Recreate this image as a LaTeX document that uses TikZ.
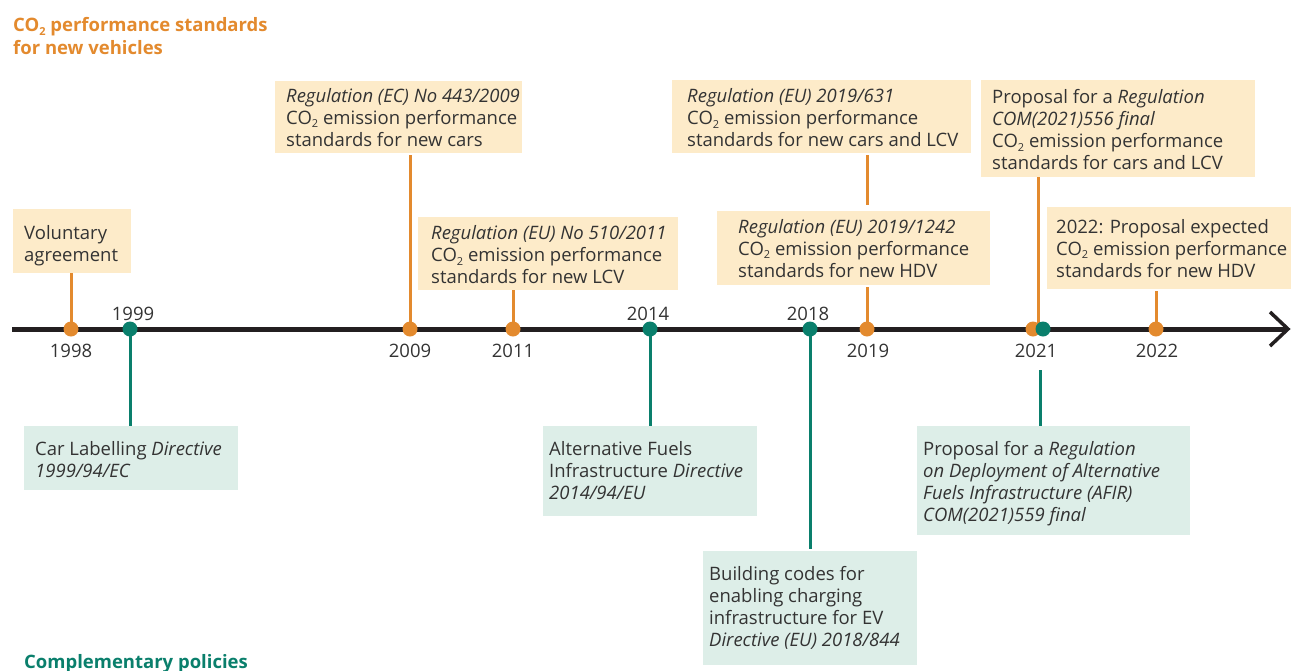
\documentclass[tikz,border=0pt]{standalone}
\usepackage{fontspec}
\setmainfont{Open Sans}
\definecolor{ocol}{HTML}{E38A2E}
\definecolor{tcol}{HTML}{0A7F6C}
\definecolor{ofill}{HTML}{FDEBC9}
\definecolor{tfill}{HTML}{DDEEE8}
\definecolor{txt}{HTML}{333333}
\definecolor{axis}{HTML}{231F20}
\newcommand{\cotwo}{CO\raisebox{-0.35ex}{\fontsize{11}{11}\selectfont 2}}
\begin{document}
\begin{tikzpicture}[x=1pt,y=-1pt,
  every node/.style={font=\fontsize{18.5}{22}\selectfont, text=txt},
  obox/.style={fill=ofill, draw=none, anchor=north west, inner sep=0},
  tbox/.style={fill=tfill, draw=none, anchor=north west, inner sep=0},
  tx/.style={anchor=west, align=left, inner sep=0},
  ostem/.style={draw=ocol, line width=3pt},
  tstem/.style={draw=tcol, line width=3pt},
  odot/.style={circle, fill=ocol, minimum size=15pt, inner sep=0},
  tdot/.style={circle, fill=tcol, minimum size=15pt, inner sep=0},
  axline/.style={draw=axis, line width=5pt},
  yr/.style={inner sep=0}
]
\useasboundingbox (0,0) rectangle (1291,670);

% titles
\node[anchor=west, align=left, inner sep=0, font=\fontsize{18.5}{23}\selectfont\bfseries, text=ocol] (ttl) at (13,36) {\cotwo{} performance standards\\for new vehicles};
\node[anchor=base west, inner sep=0, font=\fontsize{18.5}{22}\selectfont\bfseries, text=tcol] (ttl2) at (24,668) {Complementary policies};

% timeline coordinates
\coordinate (tlS) at (12,329);
\coordinate (tlE) at (1287,329);
\coordinate (c1998) at (71,329);
\coordinate (c2009) at (410,329);
\coordinate (c2011) at (513,329);
\coordinate (c2019) at (867,329);
\coordinate (c2021) at (1033,329);
\coordinate (c2021s) at (1038,329);
\coordinate (c2022) at (1156,329);
\coordinate (k1999) at (130,329);
\coordinate (k2014) at (650,329);
\coordinate (k2018) at (810,329);
\coordinate (k2021) at (1040,329);

% orange boxes
\node[obox, minimum width=118pt, minimum height=64pt] (vol) at (13,209) {};
\node[tx] (volt) at ([xshift=11pt,yshift=-4pt]vol.west) {Voluntary\\agreement};
\node[obox, minimum width=247pt, minimum height=72pt] (r443) at (275,81) {};
\node[tx] (r443t) at ([xshift=11pt,yshift=0pt]r443.west) {\textit{Regulation (EC) No 443/2009}\\\cotwo{} emission performance\\standards for new cars};
\node[obox, minimum width=260pt, minimum height=73pt] (r510) at (418,217) {};
\node[tx] (r510t) at ([xshift=13pt,yshift=-1pt]r510.west) {\textit{Regulation (EU) No 510/2011}\\\cotwo{} emission performance\\standards for new LCV};
\node[obox, minimum width=299pt, minimum height=73pt] (r631) at (672,80) {};
\node[tx] (r631t) at ([xshift=15pt,yshift=-1pt]r631.west) {\textit{Regulation (EU) 2019/631}\\\cotwo{} emission performance\\standards for new cars and LCV};
\node[obox, minimum width=273pt, minimum height=74pt] (r1242) at (717,211) {};
\node[tx] (r1242t) at ([xshift=21pt,yshift=0pt]r1242.west) {\textit{Regulation (EU) 2019/1242}\\\cotwo{} emission performance\\standards for new HDV};
\node[obox, minimum width=274pt, minimum height=97pt] (p556) at (981,80) {};
\node[tx] (p556t) at ([xshift=11pt,yshift=-1pt]p556.west) {Proposal for a \textit{Regulation}\\\textit{COM(2021)556 final}\\\cotwo{} emission performance\\standards for cars and LCV};
\node[obox, minimum width=244pt, minimum height=82pt] (p2022) at (1047,207) {};
\node[tx] (p2022t) at ([xshift=9pt,yshift=0pt]p2022.west) {2022: Proposal expected\\\cotwo{} emission performance\\standards for new HDV};

% teal boxes
\node[tbox, minimum width=214pt, minimum height=64pt] (car) at (24,426) {};
\node[tx] (cart) at ([xshift=11pt,yshift=-1pt]car.west) {Car Labelling \textit{Directive}\\\textit{1999/94/EC}};
\node[tbox, minimum width=214pt, minimum height=90pt] (afi) at (543,426) {};
\node[tx] (afit) at ([xshift=6pt,yshift=1pt]afi.west) {Alternative Fuels\\Infrastructure \textit{Directive}\\\textit{2014/94/EU}};
\node[tbox, minimum width=214pt, minimum height=114pt] (bld) at (703,551) {};
\node[tx] (bldt) at ([xshift=6pt,yshift=0pt]bld.west) {Building codes for\\enabling charging\\infrastructure for EV\\\textit{Directive (EU) 2018/844}};
\node[tbox, minimum width=273pt, minimum height=109pt] (afir) at (917,426) {};
\node[tx] (afirt) at ([xshift=6pt,yshift=-3pt]afir.west) {Proposal for a \textit{Regulation}\\\textit{on Deployment of Alternative}\\\textit{Fuels Infrastructure (AFIR)}\\\textit{COM(2021)559 final}};

% stems
\draw[ostem] (vol.south -| c1998) -- (c1998);
\draw[ostem, shorten <=2pt] (r443.south -| c2009) -- (c2009);
\draw[ostem] (r510.south -| c2011) -- (c2011);
\draw[ostem, shorten <=2pt, shorten >=6pt] (r631.south -| c2019) -- (r1242.north -| c2019);
\draw[ostem, shorten <=2pt] (r1242.south -| c2019) -- (c2019);
\draw[ostem] (p556.south -| c2021s) -- (c2021s);
\draw[ostem, shorten <=2pt] (p2022.south -| c2022) -- (c2022);
\draw[tstem] (k1999) -- (car.north -| k1999);
\draw[tstem] (k2014) -- (afi.north -| k2014);
\draw[tstem, shorten >=2pt] (k2018) -- (bld.north -| k2018);
\draw[tstem, shorten <=41pt] (k2021) -- (afir.north -| k2021);

% axis
\draw[axline] (tlS) -- (tlE);
\draw[draw=axis, line width=3.5pt, line cap=butt, line join=miter] (tlE) ++(-17,-17) -- ++(18,17) -- ++(-18,17);

% dots
\node[odot] (d1998) at (c1998) {};
\node[odot] (d2009) at (c2009) {};
\node[odot] (d2011) at (c2011) {};
\node[odot] (d2019) at (c2019) {};
\node[odot] (d2021) at (c2021) {};
\node[odot] (d2022) at (c2022) {};
\node[tdot] (e1999) at (k1999) {};
\node[tdot] (e2014) at (k2014) {};
\node[tdot] (e2018) at (k2018) {};
\node[tdot] (e2021) at ([xshift=3pt]k2021) {};

% year labels
\node[yr] (y1998) at (71,351) {1998};
\node[yr] (y1999) at (133,314) {1999};
\node[yr] (y2009) at (410,351) {2009};
\node[yr] (y2011) at (513,351) {2011};
\node[yr] (y2014) at (648,314) {2014};
\node[yr] (y2018) at (808,314) {2018};
\node[yr] (y2019) at (868,351) {2019};
\node[yr] (y2021) at (1036,351) {2021};
\node[yr] (y2022) at (1157,351) {2022};
\end{tikzpicture}
\end{document}
